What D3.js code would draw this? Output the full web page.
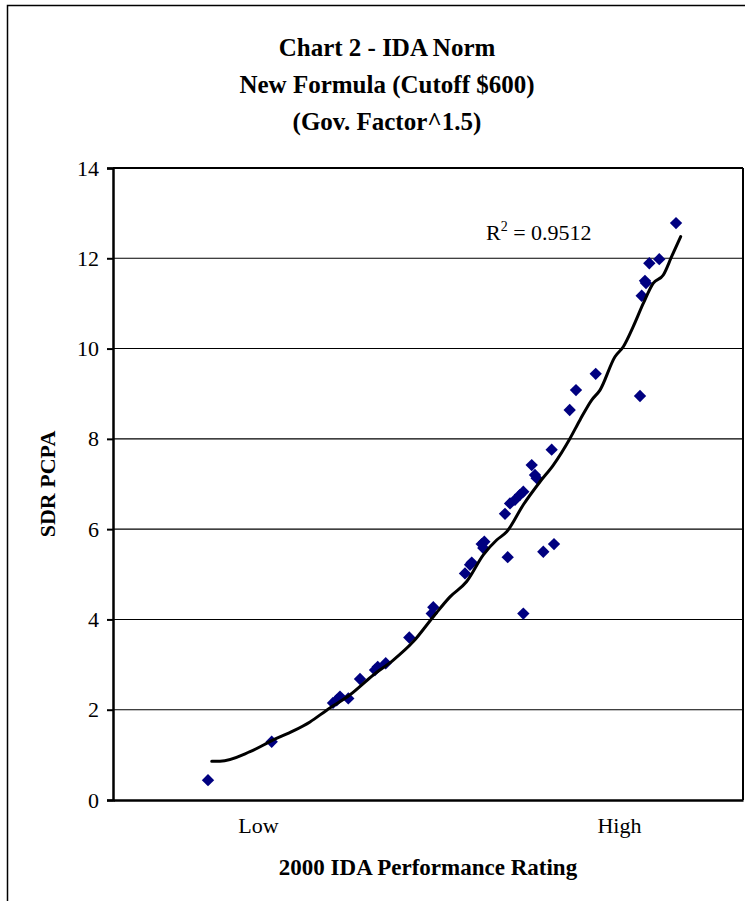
<!DOCTYPE html>
<html>
<head>
<meta charset="utf-8">
<script src="https://cdn.jsdelivr.net/npm/d3@7"></script>
<style>
  html, body { margin: 0; padding: 0; background: #fff; }
  svg { display: block; }
  text { font-family: "Liberation Serif", "Times New Roman", serif; fill: #000; }
</style>
</head>
<body>
<div id="chart"></div>
<script>
// ---- Data ----
const titleLines = ["Chart 2 - IDA Norm", "New Formula (Cutoff $600)", "(Gov. Factor^1.5)"];
const xTitle = "2000 IDA Performance Rating";
const yTitle = "SDR PCPA";
const xTickLabels = ["Low", "High"];
const xTickValues = [23.0, 80.3];
const yTickValues = [0, 2, 4, 6, 8, 10, 12, 14];
const rSquared = "0.9512";

// performance rating (relative index) and SDR PCPA
const ratingX = [15.08, 25.19, 34.92, 35.51, 36.03, 37.35, 39.21, 41.59, 42.02, 43.29,
  47.03, 50.59, 50.84, 55.87, 56.67, 56.94, 58.52, 58.78, 58.94, 62.22,
  62.65, 63.02, 63.81, 64.60, 65.13, 65.13, 66.46, 66.98, 67.25, 68.30,
  69.63, 70.00, 72.49, 73.49, 76.62, 83.65, 83.92, 84.44, 84.60, 85.13,
  86.71, 89.37];
const sdrPCPA = [0.44, 1.29, 2.15, 2.21, 2.29, 2.25, 2.68, 2.88, 2.95, 3.03,
  3.60, 4.13, 4.27, 5.02, 5.21, 5.26, 5.67, 5.58, 5.72, 6.34,
  5.38, 6.57, 6.65, 6.76, 6.83, 4.13, 7.42, 7.20, 7.13, 5.50,
  7.76, 5.67, 8.64, 9.08, 9.44, 8.95, 11.17, 11.50, 11.45, 11.89,
  11.98, 12.78];

// trendline as drawn in the reference
const trendX = [15.67, 16.98, 21.75, 25.44, 28.62, 31.27, 33.92, 37.62, 41.32, 44.49,
  47.67, 50.84, 53.49, 56.14, 58.78, 60.90, 62.49, 65.13, 67.78, 69.89,
  72.54, 74.13, 75.98, 77.30, 79.68, 81.00, 82.59, 84.17, 85.76, 87.35,
  88.68, 90.11];
const trendY = [0.86, 0.86, 1.07, 1.33, 1.53, 1.73, 1.99, 2.33, 2.77, 3.10,
  3.51, 4.06, 4.50, 4.84, 5.43, 5.76, 5.94, 6.54, 7.05, 7.42,
  8.01, 8.42, 8.86, 9.08, 9.82, 10.04, 10.49, 11.00, 11.45, 11.63,
  12.04, 12.48];

// ---- Layout ----
const W = 745, H = 901;
const plot = { left: 113, top: 168, right: 743, bottom: 800 };
const serif = "Liberation Serif, Times New Roman, serif";

const svg = d3.select("#chart").append("svg")
  .attr("width", W).attr("height", H);

// outer frame
svg.append("rect")
  .attr("x", 7.5).attr("y", 5.5)
  .attr("width", 760).attr("height", 920)
  .attr("fill", "none").attr("stroke", "#000").attr("stroke-width", 1.5);

const x = d3.scaleLinear().domain([0, 100]).range([plot.left, plot.right]);
const y = d3.scaleLinear().domain([0, 14]).range([plot.bottom, plot.top]);

// title
const title = svg.append("g").attr("text-anchor", "middle");
titleLines.forEach((t, i) => {
  title.append("text")
    .attr("x", 387).attr("y", 56 + i * 37)
    .attr("font-size", 25).attr("font-weight", "bold")
    .text(t);
});

// gridlines
svg.append("g")
  .selectAll("line")
  .data(yTickValues.filter(v => v > 0 && v < 14))
  .join("line")
  .attr("x1", plot.left).attr("x2", plot.right)
  .attr("y1", d => y(d)).attr("y2", d => y(d))
  .attr("stroke", "#000").attr("stroke-width", 1.1);

// plot-area top and right borders
svg.append("line")
  .attr("x1", plot.left).attr("x2", plot.right)
  .attr("y1", plot.top).attr("y2", plot.top)
  .attr("stroke", "#000").attr("stroke-width", 2);
svg.append("line")
  .attr("x1", plot.right).attr("x2", plot.right)
  .attr("y1", plot.top).attr("y2", plot.bottom)
  .attr("stroke", "#000").attr("stroke-width", 2);

// y axis
const yAxis = svg.append("g")
  .attr("transform", `translate(${plot.left},0)`)
  .call(d3.axisLeft(y).tickValues(yTickValues).tickSize(6).tickPadding(8).tickFormat(d3.format("d")));
yAxis.select(".domain").attr("stroke-width", 2.5);
yAxis.selectAll(".tick line").attr("stroke-width", 2);
yAxis.selectAll(".tick text")
  .attr("font-family", serif)
  .attr("font-size", 22);

// x axis
const xAxis = svg.append("g")
  .attr("transform", `translate(0,${plot.bottom})`)
  .call(d3.axisBottom(x).tickValues(xTickValues).tickSize(0).tickPadding(17)
    .tickFormat((d, i) => xTickLabels[i]));
xAxis.select(".domain").attr("stroke-width", 2.5);
xAxis.selectAll(".tick text")
  .attr("font-family", serif)
  .attr("font-size", 22);

// axis titles
svg.append("text")
  .attr("x", 428).attr("y", 875)
  .attr("text-anchor", "middle")
  .attr("font-size", 23).attr("font-weight", "bold")
  .text(xTitle);
svg.append("text")
  .attr("transform", `translate(55,484) rotate(-90)`)
  .attr("text-anchor", "middle")
  .attr("font-size", 22).attr("font-weight", "bold")
  .text(yTitle);

// markers
const pts = ratingX.map((v, i) => ({ x: v, y: sdrPCPA[i] }));
svg.append("g")
  .selectAll("path")
  .data(pts)
  .join("path")
  .attr("d", d3.symbol(d3.symbolSquare, 76))
  .attr("transform", d => `translate(${x(d.x)},${y(d.y)}) rotate(45)`)
  .attr("fill", "#000080");

// trendline
const trend = trendX.map((v, i) => ({ x: v, y: trendY[i] }));
svg.append("path")
  .datum(trend)
  .attr("d", d3.line().x(d => x(d.x)).y(d => y(d.y)).curve(d3.curveMonotoneX))
  .attr("fill", "none").attr("stroke", "#000").attr("stroke-width", 3)
  .attr("stroke-linejoin", "round").attr("stroke-linecap", "round");

// R² label
const r2 = svg.append("text")
  .attr("x", 486).attr("y", 240)
  .attr("font-size", 22);
r2.append("tspan").text("R");
r2.append("tspan").attr("font-size", 14).attr("dy", -9).text("2");
r2.append("tspan").attr("dy", 9).text(" = " + rSquared);
</script>
</body>
</html>
